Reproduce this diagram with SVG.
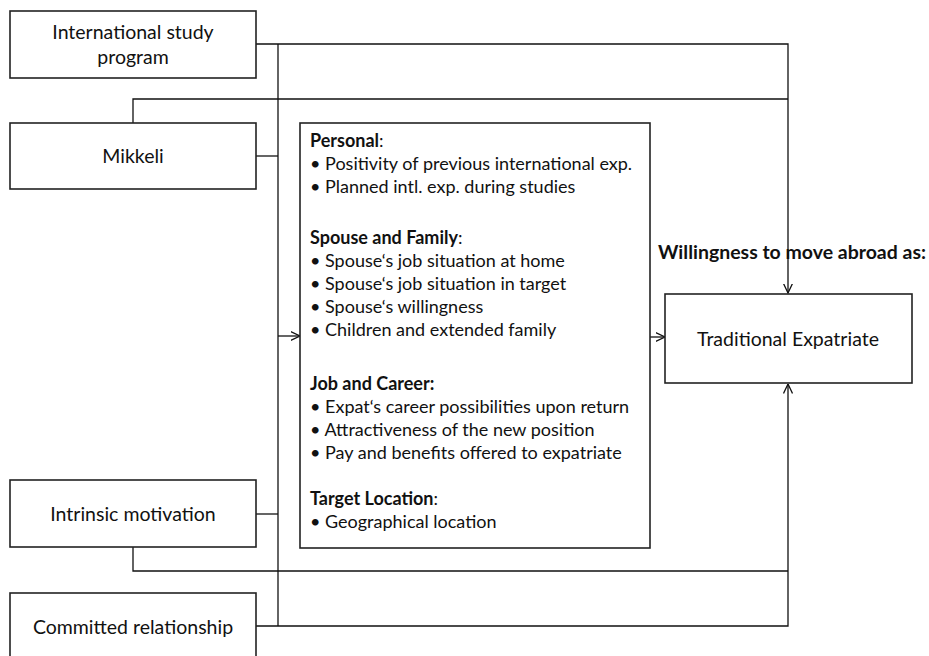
<svg xmlns="http://www.w3.org/2000/svg" width="929" height="656" viewBox="0 0 929 656">
  <style>
    .box { fill: #fff; stroke: #222; stroke-width: 1.6; }
    .wire { fill: none; stroke: #111; stroke-width: 1.3; }
    text { font-family: Lato, "Liberation Sans", sans-serif; font-size: 18px; fill: #111; }
    .c { text-anchor: middle; font-size: 19.5px; }
    .b { font-weight: bold; }
  </style>
  <defs>
    <marker id="open" viewBox="0 0 10 10" refX="9.5" refY="5" markerWidth="10" markerHeight="10" markerUnits="userSpaceOnUse" orient="auto">
      <path d="M0,0.5 L9.5,5 L0,9.5" fill="none" stroke="#111" stroke-width="1.3"/>
    </marker>
  </defs>

  <rect width="929" height="656" fill="#fff"/>

  <!-- connectors -->
  <g id="connectors">
    <path class="wire" d="M256,44 H788 V293" marker-end="url(#open)"/>
    <path class="wire" d="M133,123 V99 H788"/>
    <path class="wire" d="M256,156 H278"/>
    <path class="wire" d="M278,44 V626"/>
    <path class="wire" d="M278,336 H300" marker-end="url(#open)"/>
    <path class="wire" d="M650,337 H665" marker-end="url(#open)"/>
    <path class="wire" d="M256,514 H278"/>
    <path class="wire" d="M133,547 V571 H788"/>
    <path class="wire" d="M256,626 H788 V384" marker-end="url(#open)"/>
  </g>

  <g id="international-study-program">
    <rect class="box" x="10" y="11" width="246" height="67"/>
    <text class="c" x="133" y="39">International study</text>
    <text class="c" x="133" y="64">program</text>
  </g>

  <g id="mikkeli">
    <rect class="box" x="10" y="123" width="246" height="66"/>
    <text class="c" x="133" y="163">Mikkeli</text>
  </g>

  <g id="intrinsic-motivation">
    <rect class="box" x="10" y="480" width="246" height="67"/>
    <text class="c" x="133" y="521">Intrinsic motivation</text>
  </g>

  <g id="committed-relationship">
    <rect class="box" x="10" y="593" width="246" height="68"/>
    <text class="c" x="133" y="634">Committed relationship</text>
  </g>

  <g id="factors">
    <rect class="box" x="300" y="123" width="350" height="425"/>
    <text x="310" y="147"><tspan class="b">Personal</tspan>:</text>
    <text x="310" y="170">• Positivity of previous international exp.</text>
    <text x="310" y="193">• Planned intl. exp. during studies</text>
    <text x="310" y="244"><tspan class="b">Spouse and Family</tspan>:</text>
    <text x="310" y="267">• Spouse‘s job situation at home</text>
    <text x="310" y="290">• Spouse‘s job situation in target</text>
    <text x="310" y="313">• Spouse‘s willingness</text>
    <text x="310" y="336">• Children and extended family</text>
    <text x="310" y="390" class="b">Job and Career:</text>
    <text x="310" y="413">• Expat‘s career possibilities upon return</text>
    <text x="310" y="436">• Attractiveness of the new position</text>
    <text x="310" y="459">• Pay and benefits offered to expatriate</text>
    <text x="310" y="505"><tspan class="b">Target Location</tspan>:</text>
    <text x="310" y="528">• Geographical location</text>
  </g>

  <g id="willingness-label">
    <text x="658" y="259" class="b" textLength="268" lengthAdjust="spacingAndGlyphs">Willingness to move abroad as:</text>
  </g>

  <g id="traditional-expatriate">
    <rect class="box" x="665" y="294" width="247" height="89"/>
    <text class="c" x="788" y="346">Traditional Expatriate</text>
  </g>
</svg>
